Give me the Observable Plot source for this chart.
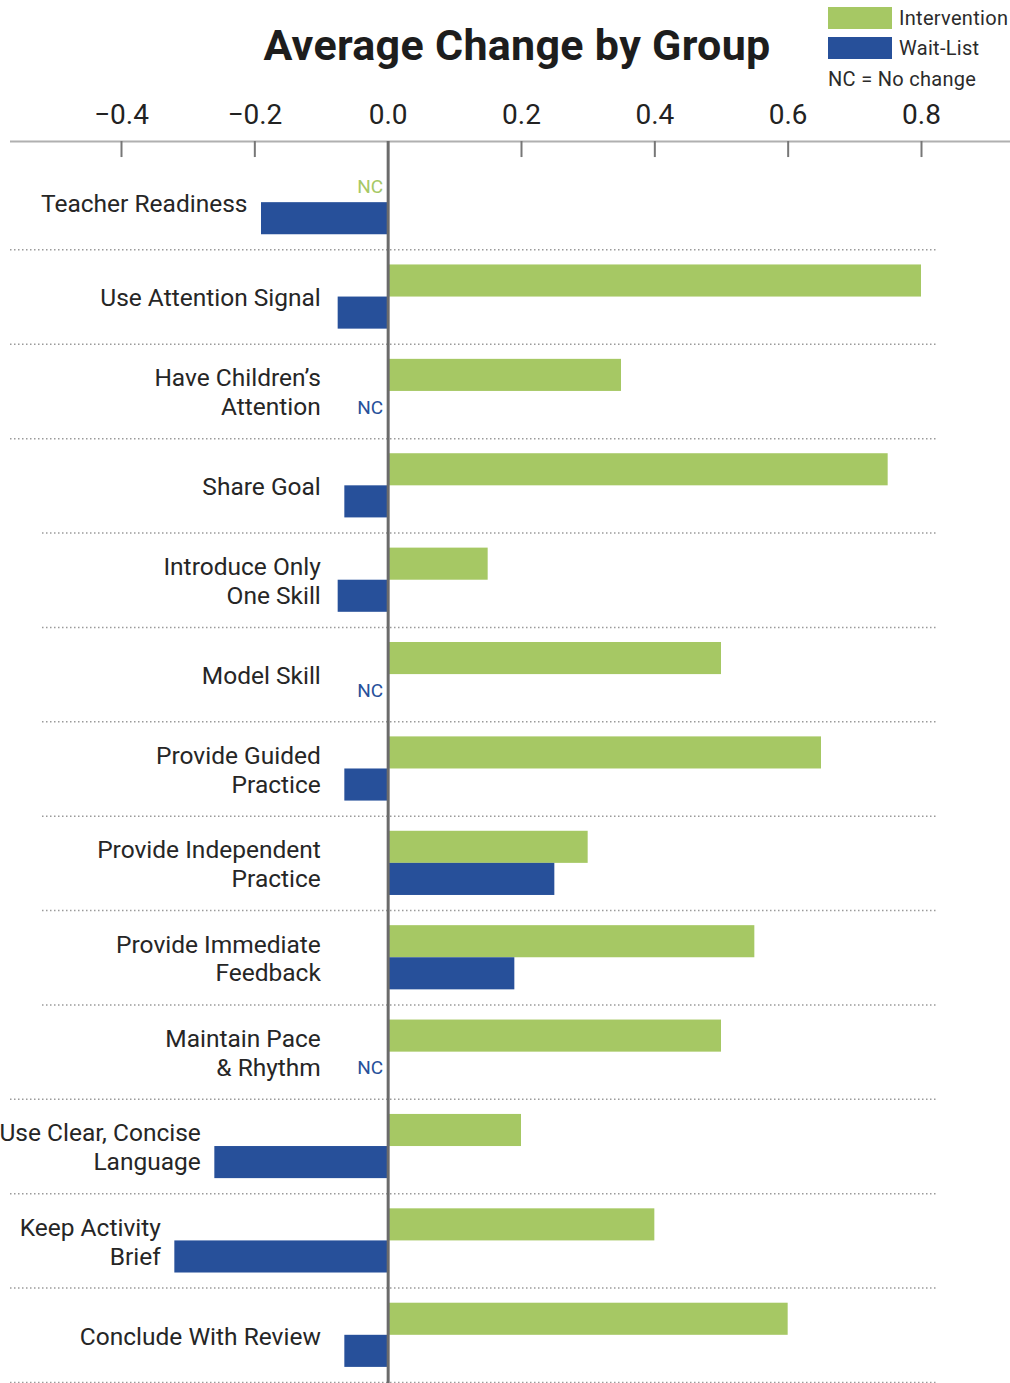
<!DOCTYPE html>
<html>
<head>
<meta charset="utf-8">
<script src="https://cdn.jsdelivr.net/npm/d3@7"></script>
<script src="https://cdn.jsdelivr.net/npm/@observablehq/plot@0.6"></script>
<style>
  body { margin: 0; background: #fff; font-family: Roboto, "Noto Sans", sans-serif; color: #222; }
  #wrap { position: relative; width: 1010px; }
  #header { position: relative; height: 90px; }
  #title { position: absolute; left: 0; width: 1034px; top: 24px; text-align: center; font-size: 43px; line-height: 43px; font-weight: 700; color: #1d1d1d; letter-spacing: 0.3px; }
  #legend { position: absolute; left: 828px; top: 7px; font-size: 20px; color: #2b2b2b; letter-spacing: 0.3px; white-space: nowrap; }
  .row { display: flex; align-items: center; height: 22px; margin-bottom: 8px; }
  .sw { width: 64px; height: 22px; margin-right: 7px; flex: none; }
  .nc { margin-top: 1px; }
  svg { display: block; }
</style>
</head>
<body>
<div id="wrap">
  <div id="header">
    <div id="title">Average Change by Group</div>
    <div id="legend"></div>
  </div>
  <div id="chart"></div>
</div>
<script>
const categories = [
  "Teacher Readiness", "Use Attention Signal", "Have Children’s Attention", "Share Goal",
  "Introduce Only One Skill", "Model Skill", "Provide Guided Practice",
  "Provide Independent Practice", "Provide Immediate Feedback", "Maintain Pace & Rhythm",
  "Use Clear, Concise Language", "Keep Activity Brief", "Conclude With Review"
];
const labelText = [
  "Teacher Readiness", "Use Attention Signal", "Have Children’s\nAttention", "Share Goal",
  "Introduce Only\nOne Skill", "Model Skill", "Provide Guided\nPractice",
  "Provide Independent\nPractice", "Provide Immediate\nFeedback", "Maintain Pace\n& Rhythm",
  "Use Clear, Concise\nLanguage", "Keep Activity\nBrief", "Conclude With Review"
];
// null = NC (no change)
const intervention = [null, 0.80, 0.35, 0.75, 0.15, 0.50, 0.65, 0.30, 0.55, 0.50, 0.20, 0.40, 0.60];
const waitList = [-0.19, -0.075, null, -0.065, -0.075, null, -0.065, 0.25, 0.19, null, -0.26, -0.32, -0.065];
const xTicks = [-0.4, -0.2, 0.0, 0.2, 0.4, 0.6, 0.8];
const seriesNames = ["Intervention", "Wait-List"];
const colors = ["#a6c864", "#27509a"];

const rows = categories.map((c, i) => ({
  category: c, label: labelText[i], i,
  intervention: intervention[i], wait: waitList[i]
}));

const axisPos = -0.148;

// legend
const legend = document.getElementById("legend");
seriesNames.forEach((s, k) => {
  const r = document.createElement("div");
  r.className = "row";
  r.innerHTML = `<div class="sw" style="background:${colors[k]}"></div><span>${s}</span>`;
  legend.appendChild(r);
});
const nc = document.createElement("div");
nc.className = "nc";
nc.textContent = "NC = No change";
legend.appendChild(nc);

const plot = Plot.plot({
  width: 1010,
  height: 1293,
  marginLeft: 10,
  marginRight: 73,
  marginTop: 51,
  marginBottom: 1,
  style: { fontFamily: "Roboto, 'Noto Sans', sans-serif", fontSize: "24px", color: "#222", background: "#fff" },
  x: { domain: [-0.5665, 0.824] },
  y: { domain: [axisPos, 13], reverse: true, axis: null },
  marks: [
    // separators
    Plot.ruleY(rows.filter(d => d.i < 3 || d.i > 8), { y: d => d.i + 1, stroke: "#9a9a9a", strokeWidth: 1.5, strokeDasharray: "1.5,2.5" }),
    Plot.ruleY(rows.filter(d => d.i >= 3 && d.i <= 8), { y: d => d.i + 1, insetLeft: 32, stroke: "#9a9a9a", strokeWidth: 1.5, strokeDasharray: "1.5,2.5" }),
    // axis line + ticks
    Plot.ruleY([axisPos], { insetRight: -73, stroke: "#b0b0b0", strokeWidth: 2 }),
    Plot.ruleX(xTicks.filter(t => t !== 0), { x: d => d, y1: axisPos, y2: axisPos + 0.17, stroke: "#777", strokeWidth: 2 }),
    Plot.axisX(xTicks, { anchor: "top", tickSize: 0, tickPadding: 18, fontSize: 28, fill: "#222", tickFormat: d3.format(".1f") }),
    // bars
    Plot.rect(rows.filter(d => d.intervention != null), {
      x1: () => 0, x2: "intervention", y1: d => d.i + 0.16, y2: d => d.i + 0.5, fill: colors[0]
    }),
    Plot.rect(rows.filter(d => d.wait != null), {
      x1: () => 0, x2: "wait", y1: d => d.i + 0.5, y2: d => d.i + 0.84, fill: colors[1]
    }),
    // zero line
    Plot.ruleX([0], { y1: axisPos, y2: 13.02, stroke: "#6b6b6b", strokeWidth: 3 }),
    // NC labels
    Plot.text(rows.filter(d => d.intervention == null), {
      x: () => 0, y: d => d.i + 0.33, text: () => "NC", textAnchor: "end", dx: -5, fill: colors[0], fontSize: 19
    }),
    Plot.text(rows.filter(d => d.wait == null), {
      x: () => 0, y: d => d.i + 0.67, text: () => "NC", textAnchor: "end", dx: -5, fill: colors[1], fontSize: 19
    }),
    // category labels
    Plot.text(rows, {
      x: d => Math.min(d.wait ?? 0, -0.08), y: d => d.i + 0.5, text: "label",
      textAnchor: "end", lineAnchor: "middle", dx: -14, lineHeight: 1.18, fontSize: 24.5, fill: "#262626"
    })
  ]
});
document.getElementById("chart").appendChild(plot);
</script>
</body>
</html>
